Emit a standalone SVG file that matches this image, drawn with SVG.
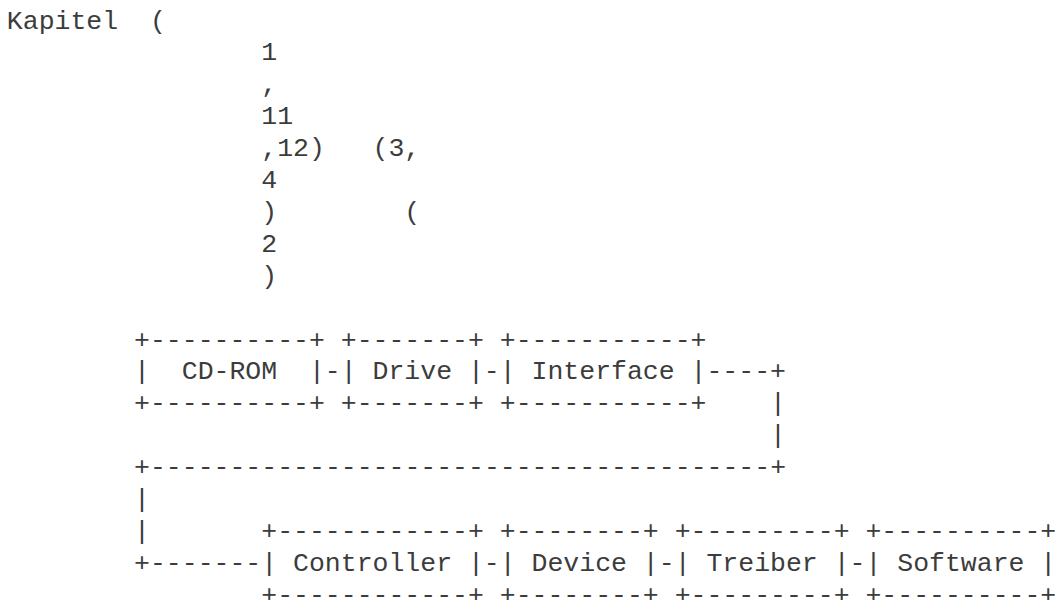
<svg xmlns="http://www.w3.org/2000/svg" width="1061" height="600" viewBox="0 0 1061 600">
<style>
.t{font-family:"Liberation Mono","Courier New",monospace;font-size:26.5px;fill:#3c3c3c}
</style>
<rect x="0" y="0" width="1061" height="600" fill="#fff"/>
<g id="caption" class="t">
<text x="6.85" y="28.5">Kapitel&#160;&#160;(</text>
<text x="261.25" y="60.4">1</text>
<text x="261.25" y="92.3">,</text>
<text x="261.25" y="124.2">11</text>
<text x="261.25" y="156.1">,12)&#160;&#160;&#160;(3,</text>
<text x="261.25" y="188">4</text>
<text x="261.25" y="219.9">)&#160;&#160;&#160;&#160;&#160;&#160;&#160;&#160;(</text>
<text x="261.25" y="251.8">2</text>
<text x="261.25" y="283.7">)</text>
</g>
<g id="node-cdrom" class="t">
<text x="134.05" y="347.5">+----------+</text>
<text x="134.05" y="379.4">|&#160;&#160;CD-ROM&#160;&#160;|</text>
<text x="134.05" y="411.3">+----------+</text>
</g>
<g id="node-drive" class="t">
<text x="340.75" y="347.5">+-------+</text>
<text x="340.75" y="379.4">|&#160;Drive&#160;|</text>
<text x="340.75" y="411.3">+-------+</text>
</g>
<g id="node-interface" class="t">
<text x="499.75" y="347.5">+-----------+</text>
<text x="499.75" y="379.4">|&#160;Interface&#160;|</text>
<text x="499.75" y="411.3">+-----------+</text>
</g>
<g id="node-controller" class="t">
<text x="261.25" y="538.9">+------------+</text>
<text x="261.25" y="570.8">|&#160;Controller&#160;|</text>
<text x="261.25" y="602.7">+------------+</text>
</g>
<g id="node-device" class="t">
<text x="499.75" y="538.9">+--------+</text>
<text x="499.75" y="570.8">|&#160;Device&#160;|</text>
<text x="499.75" y="602.7">+--------+</text>
</g>
<g id="node-treiber" class="t">
<text x="674.65" y="538.9">+---------+</text>
<text x="674.65" y="570.8">|&#160;Treiber&#160;|</text>
<text x="674.65" y="602.7">+---------+</text>
</g>
<g id="node-software" class="t">
<text x="865.45" y="538.9">+----------+</text>
<text x="865.45" y="570.8">|&#160;Software&#160;|</text>
<text x="865.45" y="602.7">+----------+</text>
</g>
<g id="connectors" class="t">
<text x="324.85" y="379.4">-</text>
<text x="483.85" y="379.4">-</text>
<text x="706.45" y="379.4">----+</text>
<text x="770.05" y="411.3">|</text>
<text x="770.05" y="443.2">|</text>
<text x="134.05" y="475.1">+---------------------------------------+</text>
<text x="134.05" y="507">|</text>
<text x="134.05" y="538.9">|</text>
<text x="134.05" y="570.8">+-------</text>
<text x="483.85" y="570.8">-</text>
<text x="658.75" y="570.8">-</text>
<text x="849.55" y="570.8">-</text>
</g>
</svg>
